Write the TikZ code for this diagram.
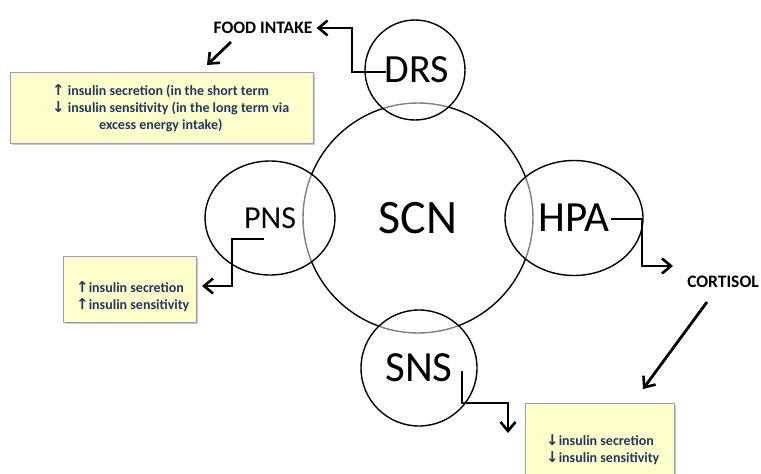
\documentclass[tikz,border=0pt]{standalone}
\usepackage{fontspec}
\setmainfont{Carlito}
\newfontfamily\arrowfont{DejaVu Sans}
\usetikzlibrary{arrows.meta,shapes.geometric,shadows}
\definecolor{boxfill}{HTML}{FFFFCC}
\definecolor{boxline}{HTML}{A095BD}
\definecolor{navy}{HTML}{1F3864}
\newcommand{\up}{{\arrowfont\bfseries\fontsize{15}{15}\selectfont ↑}}
\newcommand{\dn}{{\arrowfont\bfseries\fontsize{15}{15}\selectfont ↓}}
\tikzset{
  orb/.style={draw=black, line width=1.4pt, fill=white, fill opacity=0.5, text opacity=1, inner sep=0pt},
  conn/.style={line width=2.8pt, -{Straight Barb[length=9pt,width=15pt,line width=2.6pt]}},
  infobox/.style={draw=boxline, line width=0.8pt, fill=boxfill, inner sep=0pt,
    drop shadow={shadow xshift=1.5pt, shadow yshift=-2pt, fill=black!35, opacity=0.6}},
  infotext/.style={text=navy, font=\bfseries\fontsize{14}{17}\selectfont, align=left, inner sep=0pt, anchor=west},
  label/.style={font=\bfseries\fontsize{17.5}{17.5}\selectfont, inner sep=0pt}
}
\begin{document}
\begin{tikzpicture}[x=1pt,y=-1pt]
\useasboundingbox (0,0) rectangle (761,474);
\begin{scope}
\clip (0,0) rectangle (761,474);
% central circle
\node[circle, draw, line width=1.4pt, minimum size=230pt, inner sep=0pt,
  font=\fontsize{48}{48}\selectfont] (scn) at (418,218) {SCN};
% satellites
\node[circle, orb, minimum size=100pt, font=\fontsize{40}{40}\selectfont] (drs) at (415,70) {\hspace{4pt}DRS};
\node[ellipse, orb, minimum width=130pt, minimum height=114pt, font=\fontsize{32}{32}\selectfont] (pns) at (270,218) {PNS};
\node[ellipse, orb, minimum width=138pt, minimum height=115pt, font=\fontsize{43}{43}\selectfont] (hpa) at (574,218) {HPA};
\node[circle, orb, minimum size=116pt, font=\fontsize{43}{43}\selectfont] (sns) at (419,368) {SNS};
% labels
\node[label] (food) at (263,28) {FOOD INTAKE};
\node[label] (cort) at (723,282) {CORTISOL};
% boxes
\node[infobox, minimum width=303pt, minimum height=71pt] (box1) at (161.5,107.5) {};
\node[infotext] (t1) at (52,108) {\up\ insulin secretion (in the short term\\
  \dn\ insulin sensitivity (in the long term via\\
  \hspace{47pt}excess energy intake)};
\node[infobox, minimum width=133pt, minimum height=66pt] (box2) at (129.5,289) {};
\node[infotext] (t2) at (76,297) {\up insulin secretion\\\up insulin sensitivity};
\node[infobox, minimum width=149pt, minimum height=90pt] (box3) at (599.5,448) {};
\node[infotext] (t3) at (546,450) {\dn insulin secretion\\\dn insulin sensitivity};
% connector anchors
\coordinate (drsA) at (386,72);
\coordinate (pnsA) at (264,239);
\coordinate (pnsB) at (202,286);
\coordinate (hpaA) at (611,219);
\coordinate (hpaB) at (673,266);
\coordinate (cortA) at (707,302);
\coordinate (box3A) at (643,389);
\coordinate (foodA) at (231,42);
\coordinate (box1A) at (207,65);
\coordinate (snsA) at (462,371);
\coordinate (snsB) at (508,433);
% connectors
\draw[conn] (drsA) -- (352,72) |- ([xshift=4pt]food.east);
\draw[conn] (foodA) -- (box1A);
\draw[conn] (pnsA) -- (232,239) |- (pnsB);
\draw[conn] (hpaA) -- (642,219) |- (hpaB);
\draw[conn] (cortA) -- (box3A);
\draw[conn] (snsA) -- (462,403) -| (snsB);
\end{scope}
\end{tikzpicture}
\end{document}
